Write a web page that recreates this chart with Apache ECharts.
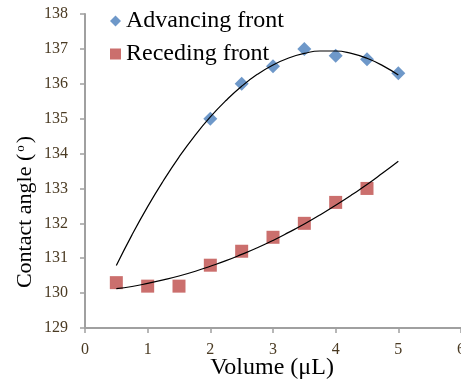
<!DOCTYPE html>
<html>
<head>
<meta charset="utf-8">
<script src="https://cdn.jsdelivr.net/npm/echarts@6/dist/echarts.min.js"></script>
<style>
  html, body { margin: 0; padding: 0; background: #fff; }
  #main { width: 461px; height: 385px; }
</style>
</head>
<body>
<div id="main"></div>
<script>
// measured points
var advX = [2, 2.5, 3, 3.5, 4, 4.5, 5]
var advY = [135, 136, 136.5, 137, 136.8, 136.7, 136.3]
var recX = [0.5, 1, 1.5, 2, 2.5, 3, 3.5, 4, 4.5]
var recY = [130.3, 130.2, 130.2, 130.8, 131.2, 131.6, 132, 132.6, 133]

// trend lines
var trendX = [0.5, 0.75, 1, 1.25, 1.5, 1.75, 2, 2.25, 2.5, 2.75, 3, 3.25, 3.5, 3.75, 4, 4.25, 4.5, 4.75, 5]
var advTrend = [130.79, 131.67, 132.48, 133.22, 133.9, 134.51, 135.05, 135.52, 135.93, 136.27, 136.54,
    136.74, 136.87, 136.94, 136.94, 136.87, 136.73, 136.52, 136.25]
var recTrend = [130.13, 130.19, 130.28, 130.38, 130.49, 130.62, 130.77, 130.93, 131.11, 131.3, 131.51,
    131.74, 131.98, 132.24, 132.52, 132.81, 133.11, 133.44, 133.78]

var names = ['Advancing front', 'Receding front']

function pairs(xs, ys) {
    return xs.map(function (x, i) { return [x, ys[i]] })
}

var font = '"Liberation Serif", serif'
var tickColor = '#4a3a22'

var myChart = echarts.init(document.getElementById('main'))
myChart.setOption({
    animation: false,
    textStyle: { fontFamily: font },
    grid: { left: 85, top: 14, right: 0, bottom: 57, outerBoundsMode: 'none', containLabel: false },
    legend: {
        data: [names[0], names[1]],
        orient: 'vertical',
        left: 105,
        top: 4,
        itemWidth: 11,
        itemHeight: 11,
        itemGap: 9,
        textStyle: { fontFamily: font, fontSize: 24, color: '#000', lineHeight: 24 }
    },
    xAxis: {
        type: 'value',
        min: 0,
        max: 6,
        interval: 1,
        axisLine: { lineStyle: { color: '#a0a0a0', width: 2 } },
        axisTick: { show: true, length: 5, lineStyle: { color: '#a0a0a0', width: 1.5 } },
        axisLabel: { color: tickColor, fontFamily: font, fontSize: 16, margin: 14 },
        splitLine: { show: false }
    },
    yAxis: {
        type: 'value',
        min: 129,
        max: 138,
        interval: 1,
        axisLine: { show: true, lineStyle: { color: '#a0a0a0', width: 2 } },
        axisTick: { show: true, length: 5, lineStyle: { color: '#a0a0a0', width: 1.5 } },
        axisLabel: { color: tickColor, fontFamily: font, fontSize: 16, margin: 17 },
        splitLine: { show: false }
    },
    graphic: [
        {
            type: 'text',
            x: 272, y: 368,
            style: {
                text: 'Volume (μL)',
                font: '24px "Liberation Serif"',
                fill: '#000',
                textAlign: 'center',
                textVerticalAlign: 'middle'
            }
        },
        {
            type: 'text',
            x: 25, y: 212,
            rotation: Math.PI / 2,
            style: {
                text: '{a|Contact angle (}{s|o}{a|)}',
                fill: '#000',
                align: 'center',
                verticalAlign: 'middle',
                rich: {
                    a: { font: '22px "Liberation Serif"', fill: '#000' },
                    s: { font: '13px "Liberation Serif"', fill: '#000', padding: [0, 2, 9, 2] }
                }
            }
        }
    ],
    series: [
        {
            name: names[0],
            type: 'scatter',
            symbol: 'diamond',
            symbolSize: 14,
            itemStyle: { color: '#4a7ebb' },
            data: pairs(advX, advY),
            z: 2
        },
        {
            name: names[1],
            type: 'scatter',
            symbol: 'rect',
            symbolSize: 13,
            itemStyle: { color: '#be4b48' },
            data: pairs(recX, recY),
            z: 2
        },
        {
            type: 'line',
            smooth: true,
            showSymbol: false,
            lineStyle: { color: '#000', width: 1.2 },
            data: pairs(trendX, advTrend),
            z: 3
        },
        {
            type: 'line',
            smooth: true,
            showSymbol: false,
            lineStyle: { color: '#000', width: 1.2 },
            data: pairs(trendX, recTrend),
            z: 3
        }
    ]
})
</script>
</body>
</html>
